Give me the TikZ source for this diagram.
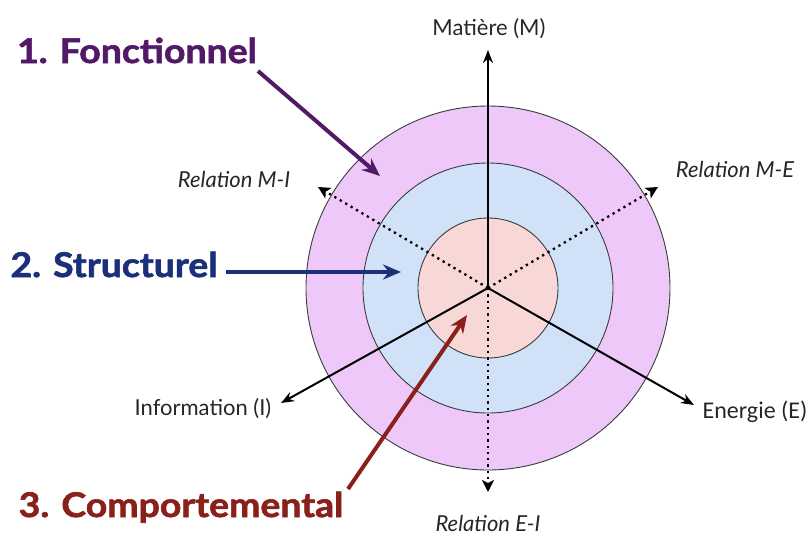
\documentclass[tikz,border=0pt]{standalone}
\usepackage{fontspec}
\setmainfont{Lato}
\newfontfamily\calfont{Carlito}
\newfontfamily\headfont{Lato}[FakeStretch=1.1, BoldFeatures={FakeBold=1.8}]
\usetikzlibrary{arrows.meta}
\definecolor{ringout}{RGB}{238,200,248}
\definecolor{ringmid}{RGB}{208,225,248}
\definecolor{ringin}{RGB}{248,216,214}
\definecolor{fonc}{RGB}{82,25,102}
\definecolor{struc}{RGB}{28,48,122}
\definecolor{comp}{RGB}{138,32,26}
\definecolor{edge}{RGB}{60,60,60}
\tikzset{
  ring/.style={circle, draw=edge, line width=0.9pt, inner sep=0pt},
  axis/.style={line width=2pt, -{Stealth[length=13pt,width=10pt]}},
  rel/.style={line width=2.3pt, dash pattern=on 2.3pt off 4pt, -{Stealth[length=12pt,width=12pt,inset=3pt]}},
  layer/.style={anchor=base, inner sep=0pt, font=\headfont\fontsize{34}{38}\selectfont\bfseries},
  pointer/.style={line width=4pt, -{Stealth[length=18pt,width=15pt]}},
  axlabel/.style={anchor=base, inner sep=0pt, font=\fontsize{22}{24}\selectfont, text=black!85},
  rellabel/.style={anchor=base, inner sep=0pt, font=\fontsize{22}{24}\selectfont\itshape, text=black!85},
}
\begin{document}
\begin{tikzpicture}[x=1pt,y=-1pt]
\useasboundingbox (0,0) rectangle (812,536);
\coordinate (O) at (488,288);
% concentric layers
\node[ring, fill=ringout, minimum size=364pt] (outer) at (O) {};
\node[ring, fill=ringmid, minimum size=250pt] (middle) at (O) {};
\node[ring, fill=ringin, minimum size=140pt] (inner) at (O) {};
% ends of the axes
\coordinate (mEnd) at (488,50);
\coordinate (iEnd) at (281,403);
\coordinate (eEnd) at (694,405);
\coordinate (miEnd) at (318,187);
\coordinate (meEnd) at (658,187);
\coordinate (eiEnd) at (488,492);
% flows
\draw[axis] (O) -- (mEnd);
\draw[axis] (O) -- (iEnd);
\draw[axis] (O) -- (eEnd);
% relations
\draw[rel] (O) -- (miEnd);
\draw[rel] (O) -- (meEnd);
\draw[rel] (O) -- (eiEnd);
% axis labels
\node[axlabel] (mat) at (489,35) {Matière (M)};
\node[axlabel] (info) at (203,415) {Information (I)};
\node[axlabel, font=\calfont\fontsize{24}{26}\selectfont] (ener) at (755,418) {Energie (E)};
\node[rellabel] (rmi) at (234,187) {Relation M-I};
\node[rellabel] (rme) at (735,177) {Relation M-E};
\node[rellabel] (rei) at (488,531) {Relation E-I};
% viewpoints
\node[layer, text=fonc] (fonc) at (137,63) {1. Fonctionnel};
\node[layer, text=struc] (struc) at (114,277) {2. Structurel};
\node[layer, text=comp] (comp) at (181,517) {3. Comportemental};
\coordinate (foncTip) at (380,176);
\coordinate (strucTip) at (401,272);
\coordinate (compTip) at (467,315);
\draw[pointer, fonc] (258,71) -- (foncTip);
\draw[pointer, struc] (226,272) -- (strucTip);
\draw[pointer, comp] (348,489) -- (compTip);
\end{tikzpicture}
\end{document}
